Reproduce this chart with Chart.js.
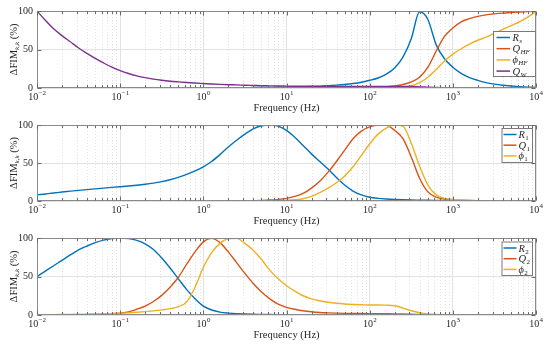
<!DOCTYPE html>
<html><head><meta charset="utf-8">
<script src="https://cdn.jsdelivr.net/npm/chart.js@4.4.1/dist/chart.umd.min.js"></script>
<style>
html,body{margin:0;padding:0;background:#fff;}
#wrap{position:relative;width:545px;height:348px;overflow:hidden;}
#wrap canvas{position:absolute;left:0;top:0;}
</style></head><body>
<div id="wrap">
<canvas id="c1" width="545" height="348"></canvas>
<canvas id="c2" width="545" height="348"></canvas>
<canvas id="c3" width="545" height="348"></canvas>
</div>
<script>
// Frequencies (Hz), 10 points per decade from 1e-2 to 1e4
const freq = [0.01,0.01259,0.01585,0.01995,0.02512,0.03162,0.03981,0.05012,0.0631,0.07943,
0.1,0.1259,0.1585,0.1995,0.2512,0.3162,0.3981,0.5012,0.631,0.7943,
1,1.259,1.585,1.995,2.512,3.162,3.981,5.012,6.31,7.943,
10,12.59,15.85,19.95,25.12,31.62,39.81,50.12,63.1,79.43,
100,125.9,158.5,199.5,251.2,316.2,398.1,501.2,631,794.3,
1000,1259,1585,1995,2512,3162,3981,5012,6310,7943,10000];

// Top panel
const topRs = [0.1,0.1,0.1,0.1,0.1,0.1,0.1,0.1,0.1,0.1,
0.1,0.1,0.1,0.1,0.1,0.2,0.2,0.2,0.2,0.2,
0.2,0.3,0.3,0.4,0.4,0.5,0.6,0.7,0.8,1.0,
1.2,1.4,1.7,2.0,2.5,3.0,3.7,4.6,5.8,7.5,
10,13,18,26,40,64,99,89,56,38,
27,19,13.5,10,7,5,3.6,2.6,1.8,1.2,0.8];
const topQHF = [0,0,0,0,0,0,0,0,0,0,
0,0,0,0,0,0,0,0,0,0,
0,0,0,0,0,0,0,0,0,0,
0,0,0,0,0,0,0.1,0.2,0.3,0.4,
0.6,1,1.6,2.6,4.5,8,14,27,48,67,
78,86,90,93,95,96.3,97.3,98,98.7,99.3,100];
const topPhiHF = [0,0,0,0,0,0,0,0,0,0,
0,0,0,0,0,0,0,0,0,0,
0,0,0,0,0,0,0,0,0,0,
0,0,0,0,0,0,0,0,0.1,0.1,
0.2,0.2,0.3,0.5,1.2,3,7,14,24,35,
44,51,57,62,66,71,76,81,86,92,99.5];
const topQW = [100,88,77,68,60,52,45,38.5,32.5,27,
22.5,18.8,15.8,13.4,11.5,10,8.8,7.9,7.1,6.4,
5.8,5.2,4.7,4.3,4,3.6,3.3,3,2.8,2.6,
2.4,2.3,2.2,2.2,2.1,2.1,2.1,2,2,2,
2,2,2,2,2,1.9,1.5,1,0.6,0.3,
0.1,0,0,0,0,0,0,0,0,0,0];

// Middle panel
const midR1 = [8,9.3,10.6,11.8,13,14,15,16,17,17.9,
18.8,19.8,20.8,22,23.5,25.5,28,31,35,39.5,
45,52,61,71,80,88,95,99,100,98.5,
93,84,73,62,52,42,31,21,13,8,
5,3.5,2.6,2,1.6,1.3,1.1,0.9,0.8,0.7,
0.6,0.5,0.4,0.35,0.3,0.25,0.2,0.15,0.1,0.1,0.1];
const midQ1 = [0,0,0,0,0,0,0,0,0,0,
0,0,0,0,0,0,0,0,0,0,
0,0,0,0,0,0.3,0.5,0.8,1.3,2.2,
3.5,6,10,17,26,38,52,67,82,92,
97.5,99.8,99.6,93,82,58,30,12,5,2.5,
1.5,1,0.6,0.4,0.3,0.2,0.1,0,0,0,0];
const midPhi1 = [0,0,0,0,0,0,0,0,0,0,
0,0,0,0,0,0,0,0,0,0,
0,0,0,0,0,0,0,0,0.3,0.6,
1,1.7,3,6,11,17,24,33,45,60,
75,88,96,100,98.5,76,46,21,8,3.5,
2,1.2,0.8,0.5,0.3,0.2,0.1,0,0,0,0];

// Bottom panel
const botR2 = [50,57,64,71,78,84.5,89.5,94,97.3,99.3,
100,99.2,97,92.5,85,74,61,47,33,21,
11.5,6.5,3.8,2.5,1.7,1.3,1,0.8,0.6,0.5,
0.4,0.35,0.3,0.3,0.25,0.2,0.2,0.2,0.2,0.2,
0.2,0.2,0.2,0.15,0.1,0.1,0.1,0.1,0.1,0.1,
0.1,0.1,0.1,0.1,0.1,0,0,0,0,0,0];
const botQ2 = [0.1,0.1,0.15,0.2,0.3,0.4,0.6,0.8,1.1,1.6,
2.5,4,7.5,11.5,17.5,25.5,36,49,66,82,
95,99.5,94,82,68,54,41,30,21,14,
10,7.5,5.5,4.2,3.3,2.8,2.4,2.1,2,1.9,
1.8,1.7,1.6,1.5,1.3,1,0.6,0.3,0.15,0.1,
0,0,0,0,0,0,0,0,0,0,0];
const botPhi2 = [0.3,0.4,0.5,0.65,0.8,1.0,1.2,1.4,1.7,2.0,
2.3,2.9,3.6,4.4,5.4,6.6,8.2,11,17,36,
62,81,93,99,99.5,93,84,72,58,47,
38,31,25,21,18.5,16.5,15.2,14.3,13.7,13.3,
13,13,12.8,12,9,5.5,3,1.5,0.8,0.4,
0.2,0.1,0,0,0,0,0,0,0,0,0];

const xTickExps = [-2,-1,0,1,2,3,4];
const yTicks = [0,50,100];
const xTitle = 'Frequency (Hz)';
const yTitleMain = 'ΔFIM', yTitleSub = 'k,k', yTitleEnd = ' (%)';

const C = {blue:'#0072BD', orange:'#D95319', yellow:'#EDB120', purple:'#7E2F8E'};
const SERIF = '"Liberation Serif", "DejaVu Serif", serif';
const AX = '#262626';

function drawDecor(chart, opts) {
  const ctx = chart.ctx, a = chart.chartArea, x = chart.scales.x, y = chart.scales.y;
  ctx.save();
  // box
  ctx.strokeStyle = '#8a8a8a'; ctx.lineWidth = 1; ctx.setLineDash([]);
  const L = Math.round(a.left)+0.5, R = Math.round(a.right)-0.5, T = Math.round(a.top)+0.5, B = Math.round(a.bottom)-0.5;
  ctx.strokeRect(L, T, R-L, B-T);
  // ticks
  ctx.strokeStyle = '#6a6a6a';
  ctx.beginPath();
  for (let p = -2; p <= 4; p++) {
    for (let m = 1; m <= 9; m++) {
      if (p === 4 && m > 1) break;
      const px = Math.round(x.getPixelForValue(m*Math.pow(10,p))) + 0.5;
      const len = m === 1 ? 4 : 2.5;
      ctx.moveTo(px, B); ctx.lineTo(px, B-len);
      ctx.moveTo(px, T); ctx.lineTo(px, T+len);
    }
  }
  yTicks.forEach(v => {
    const py = Math.round(y.getPixelForValue(v)) + 0.5;
    ctx.moveTo(L, py); ctx.lineTo(L+4, py);
    ctx.moveTo(R, py); ctx.lineTo(R-4, py);
  });
  ctx.stroke();
  // x tick labels
  ctx.fillStyle = AX; ctx.textBaseline = 'alphabetic'; ctx.textAlign = 'left';
  xTickExps.forEach(e => {
    const px = x.getPixelForValue(Math.pow(10, e));
    const es = (e < 0 ? '\u2212' : '') + Math.abs(e);
    ctx.font = '10px ' + SERIF; const wb = ctx.measureText('10').width;
    ctx.font = '7px ' + SERIF; const we = ctx.measureText(es).width;
    const x0 = px - (wb + we)/2;
    ctx.font = '10px ' + SERIF; ctx.fillText('10', x0, a.bottom + 11.5);
    ctx.font = '7px ' + SERIF; ctx.fillText(es, x0 + wb + 0.3, a.bottom + 6.5);
  });
  // x title
  ctx.font = '10.5px ' + SERIF; ctx.textAlign = 'center'; ctx.textBaseline = 'middle';
  ctx.fillText(xTitle, (a.left + a.right)/2, a.bottom + 20.5);
  // y title (rotated)
  ctx.save();
  ctx.translate(14, (a.top + a.bottom)/2);
  ctx.rotate(-Math.PI/2);
  ctx.textAlign = 'left'; ctx.textBaseline = 'middle';
  ctx.font = '10.5px ' + SERIF; const w1 = ctx.measureText(yTitleMain).width; const w3 = ctx.measureText(yTitleEnd).width;
  ctx.font = 'italic 7px ' + SERIF; const w2 = ctx.measureText(yTitleSub).width;
  let sx = -(w1 + w2 + w3)/2;
  ctx.font = '10.5px ' + SERIF; ctx.fillText(yTitleMain, sx, 0); sx += w1;
  ctx.font = 'italic 7px ' + SERIF; ctx.fillText(yTitleSub, sx, 3); sx += w2;
  ctx.font = '10.5px ' + SERIF; ctx.fillText(yTitleEnd, sx, 0);
  ctx.restore();
  // legend
  const lg = opts.legend;
  if (lg) {
    ctx.fillStyle = '#fff';
    ctx.fillRect(lg.x0, lg.y0, lg.x1 - lg.x0, lg.y1 - lg.y0);
    ctx.strokeStyle = '#7a7a7a'; ctx.lineWidth = 1;
    ctx.strokeRect(lg.x0 + 0.5, lg.y0 + 0.5, lg.x1 - lg.x0 - 1, lg.y1 - lg.y0 - 1);
    lg.items.forEach((it, i) => {
      const yy = lg.row0 + i * lg.dy;
      ctx.strokeStyle = it.color; ctx.lineWidth = 1.5;
      ctx.beginPath(); ctx.moveTo(lg.lx0, yy); ctx.lineTo(lg.lx1, yy); ctx.stroke();
      ctx.fillStyle = AX; ctx.textAlign = 'left'; ctx.textBaseline = 'alphabetic';
      ctx.font = 'italic 10.5px ' + SERIF;
      ctx.fillText(it.main, lg.tx, yy + 3.5);
      const wm = ctx.measureText(it.main).width;
      ctx.font = (it.subItalic ? 'italic ' : '') + '7px ' + SERIF;
      ctx.fillText(it.sub, lg.tx + wm + 0.3, yy + 5.5);
    });
  }
  ctx.restore();
}

const decorPlugin = {
  id: 'decor',
  beforeDatasetsDraw(chart) {
    const ctx = chart.ctx, a = chart.chartArea, x = chart.scales.x;
    ctx.save();
    ctx.strokeStyle = '#e3e3e3'; ctx.lineWidth = 1; ctx.setLineDash([1, 2]);
    ctx.beginPath();
    for (let p = -2; p < 4; p++) for (let m = 2; m <= 9; m++) {
      const px = Math.round(x.getPixelForValue(m*Math.pow(10,p))) + 0.5;
      ctx.moveTo(px, a.top); ctx.lineTo(px, a.bottom);
    }
    ctx.stroke();
    ctx.restore();
  },
  afterDraw(chart, args, opts) { drawDecor(chart, opts); }
};

function makeChart(id, series, top, bottom, legend) {
  const n = series.length;
  return new Chart(document.getElementById(id), {
    type: 'line',
    data: {
      datasets: series.map((s, i) => ({
        data: freq.map((f, k) => ({x: f, y: s.values[k]})),
        borderColor: s.color, borderWidth: 1.4, pointRadius: 0,
        cubicInterpolationMode: 'monotone', fill: false, order: n - i
      }))
    },
    options: {
      responsive: false, animation: false, events: [],
      layout: {padding: {top: top, bottom: 348 - bottom, left: 0, right: 9}},
      plugins: {legend: {display: false}, tooltip: {enabled: false}, decor: {legend: legend}},
      scales: {
        x: {
          type: 'logarithmic', min: 0.01, max: 10000,
          afterBuildTicks: s => { s.ticks = xTickExps.map(e => ({value: Math.pow(10, e), major: true})); },
          afterFit: s => { s.height = 0; },
          ticks: {display: false},
          grid: {drawTicks: false, color: '#e2e2e2', lineWidth: 1},
          border: {display: false}
        },
        y: {
          min: 0, max: 100,
          afterBuildTicks: s => { s.ticks = yTicks.map(v => ({value: v})); },
          afterFit: s => { s.width = 37; },
          ticks: {color: AX, font: {family: SERIF, size: 10}, padding: 4},
          grid: {drawTicks: false, color: '#e2e2e2', lineWidth: 1},
          border: {display: false}
        }
      }
    },
    plugins: [decorPlugin]
  });
}

makeChart('c1', [
  {values: topRs, color: C.blue},
  {values: topQHF, color: C.orange},
  {values: topPhiHF, color: C.yellow},
  {values: topQW, color: C.purple}
], 11, 88, {
  x0: 493, x1: 536, y0: 31, y1: 77, row0: 37.5, dy: 11.2, lx0: 496.5, lx1: 510, tx: 512.5,
  items: [
    {color: C.blue, main: 'R', sub: 's', subItalic: true},
    {color: C.orange, main: 'Q', sub: 'HF', subItalic: true},
    {color: C.yellow, main: '\u03D5', sub: 'HF', subItalic: true},
    {color: C.purple, main: 'Q', sub: 'W', subItalic: true}
  ]
});

makeChart('c2', [
  {values: midR1, color: C.blue},
  {values: midQ1, color: C.orange},
  {values: midPhi1, color: C.yellow}
], 125, 201, {
  x0: 501.5, x1: 533, y0: 128, y1: 163, row0: 134.5, dy: 10.7, lx0: 503.5, lx1: 516.5, tx: 518.5,
  items: [
    {color: C.blue, main: 'R', sub: '1', subItalic: false},
    {color: C.orange, main: 'Q', sub: '1', subItalic: false},
    {color: C.yellow, main: '\u03D5', sub: '1', subItalic: false}
  ]
});

makeChart('c3', [
  {values: botR2, color: C.blue},
  {values: botQ2, color: C.orange},
  {values: botPhi2, color: C.yellow}
], 238, 315, {
  x0: 501.5, x1: 533, y0: 241.5, y1: 276, row0: 248, dy: 10.7, lx0: 503.5, lx1: 516.5, tx: 518.5,
  items: [
    {color: C.blue, main: 'R', sub: '2', subItalic: false},
    {color: C.orange, main: 'Q', sub: '2', subItalic: false},
    {color: C.yellow, main: '\u03D5', sub: '2', subItalic: false}
  ]
});
</script>
</body></html>
